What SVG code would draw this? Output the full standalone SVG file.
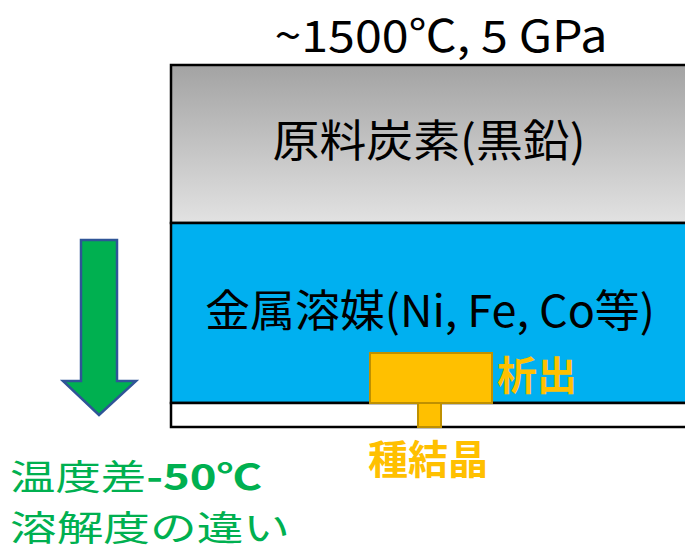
<svg xmlns="http://www.w3.org/2000/svg" width="685" height="552" viewBox="0 0 685 552">
<defs>
<linearGradient id="g" x1="0" y1="0" x2="0" y2="1">
<stop offset="0" stop-color="#a3a3a3"/>
<stop offset="1" stop-color="#e2e2e2"/>
</linearGradient>
</defs>
<style>
text{font-family:"Noto Sans CJK JP","Noto Sans",sans-serif;}
.blk{fill:#000;font-size:44px;}
.yel{fill:#FFC000;font-size:40px;font-weight:bold;}
.grn{fill:#00B050;font-size:35px;}
</style>
<rect width="685" height="552" fill="#fff"/>
<g id="graphite">
<rect x="171" y="65" width="520" height="158" fill="url(#g)" stroke="#000" stroke-width="2.5"/>
<text class="blk" x="429" y="157" text-anchor="middle" textLength="313" lengthAdjust="spacingAndGlyphs">原料炭素(黒鉛)</text>
</g>
<g id="solvent">
<rect x="171" y="223" width="520" height="180" fill="#00B0F0" stroke="#000" stroke-width="2.5"/>
<text class="blk" x="430" y="327" text-anchor="middle" textLength="450" lengthAdjust="spacingAndGlyphs">金属溶媒(Ni, Fe, Co等)</text>
</g>
<g id="base">
<rect x="171" y="403" width="520" height="24" fill="#fff" stroke="#000" stroke-width="2.5"/>
</g>
<g id="crystal">
<rect x="370" y="353" width="122" height="50" fill="#FFC000" stroke="#BF9000" stroke-width="2"/>
<text class="yel" x="497" y="390">析出</text>
</g>
<g id="seed">
<rect x="418" y="403" width="23" height="24" fill="#FFC000" stroke="#BF9000" stroke-width="2"/>
<text class="yel" x="428" y="474" text-anchor="middle">種結晶</text>
</g>
<g id="title">
<text class="blk" x="441" y="52" text-anchor="middle" textLength="333" lengthAdjust="spacingAndGlyphs">~1500℃, 5 GPa</text>
</g>
<g id="arrow">
<path d="M81,240 H117 V381 H136 L99,415 L63,381 H81 Z" fill="#00B050" stroke="#2F5597" stroke-width="2.5"/>
</g>
<g id="note">
<text class="grn" x="10" y="490" textLength="252" lengthAdjust="spacingAndGlyphs">温度差<tspan font-weight="bold">-50℃</tspan></text>
<text class="grn" x="10" y="541" textLength="280" lengthAdjust="spacingAndGlyphs">溶解度の違い</text>
</g>
</svg>
